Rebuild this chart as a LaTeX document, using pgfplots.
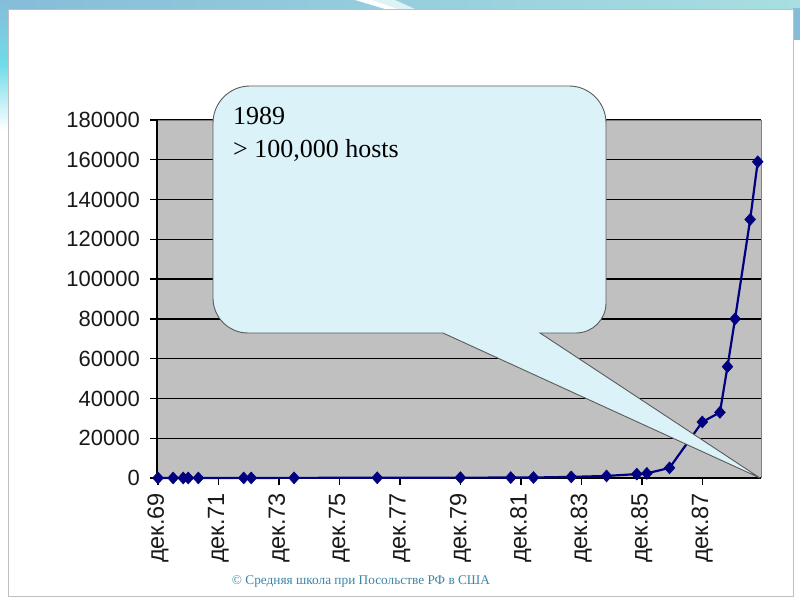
\documentclass[border=0pt]{standalone}
\usepackage{fontspec}
\setmainfont{Liberation Serif}
\newfontfamily\arial{Liberation Sans}
\usepackage{pgfplots}
\pgfplotsset{compat=1.18}
\definecolor{navy}{HTML}{000080}
\definecolor{plotgray}{HTML}{C0C0C0}
\definecolor{bubble}{HTML}{DBF3F8}
\definecolor{bubbleedge}{HTML}{5A5A5A}
\definecolor{copyc}{HTML}{3B86A8}
\definecolor{bandL}{HTML}{86BCD8}
\definecolor{bandR}{HTML}{A8DFE2}
\definecolor{sideC}{HTML}{6FDCEA}
\begin{document}
\begin{tikzpicture}[x=1pt,y=1pt]
\path[use as bounding box] (0,0) rectangle (800,600);
\fill[white] (0,0) rectangle (800,600);
% decorative slide band
\shade[left color=bandL, right color=bandR] (0,588) rectangle (800,600);
\shade[top color=bandL, bottom color=white, middle color=sideC] (0,470) rectangle (10,600);
\fill[white] (355,600) -- (380,600) -- (405,591) -- (385,591) -- cycle;
\fill[white!60!bandR] (372,600) -- (395,600) -- (415,591) -- (398,591) -- cycle;
\fill[bandL] (793,560) rectangle (800,592);
\draw[white!75!black, line width=0.8pt, fill=white] (8,4) rectangle (793,591);
\begin{axis}[
  at={(157pt,122pt)}, anchor=south west,
  scale only axis, width=604pt, height=358pt,
  xmin=10.6, xmax=250.3, ymin=0, ymax=180000,
  axis background/.style={fill=plotgray},
  axis line style={draw=none},
  xtick={11,35,59,83,107,131,155,179,203,227},
  xticklabels={дек.69,дек.71,дек.73,дек.75,дек.77,дек.79,дек.81,дек.83,дек.85,дек.87},
  ytick={0,20000,40000,60000,80000,100000,120000,140000,160000,180000},
  scaled y ticks=false,
  yticklabel style={/pgf/number format/fixed, /pgf/number format/1000 sep={}, /pgf/number format/assume math mode=true},
  xticklabel style={font=\arial\fontsize{23.5}{26}\selectfont, text=black!90, rotate=90, anchor=east, inner sep=0pt, xshift=-8pt},
  yticklabel style={font=\arial\fontsize{22}{26}\selectfont, text=black!90, inner sep=0pt, xshift=-10pt},
  tick align=outside, xtick pos=bottom, ytick pos=left,
  major tick length=7pt,
  tick style={black, line width=1.4pt},
  ymajorgrids, grid style={black, line width=1.4pt},
  clip=false,
]
\draw[gray, line width=0.8pt] (rel axis cs:0,1) -- (rel axis cs:1,1) -- (rel axis cs:1,0);
\draw[black, line width=1.4pt] (rel axis cs:0,0) -- (rel axis cs:1,0);
\draw[black, line width=1.6pt] (rel axis cs:0,0) -- (rel axis cs:0,1);
\addplot[color=navy, line width=2.2pt, mark=diamond*, mark size=6pt, mark options={solid, fill=navy, draw=navy, line width=0.5pt, xscale=1.2}] coordinates {
(11,4) (17,9) (21,11) (23,13) (27,23) (45,31) (48,35) (65,62) (98,111)
(131,188) (151,213) (160,235) (175,562) (189,1024) (201,1961) (205,2308)
(214,5089) (227,28174) (234,33000) (237,56000) (240,80000) (246,130000) (249,159000)
};
\end{axis}
% callout
\draw[fill=bubble, draw=bubbleedge, line width=0.9pt]
  (250,514) -- (569,514) arc[start angle=90, end angle=0, radius=37]
  -- (606,297) arc[start angle=0, end angle=-90, radius=30]
  -- (540,267) -- (760,122) -- (443,267) -- (248,267)
  arc[start angle=270, end angle=180, radius=35]
  -- (213,477) arc[start angle=180, end angle=90, radius=37] -- cycle;
\node[anchor=north west, inner sep=0pt, align=left, font=\fontsize{26}{33}\selectfont] at (233,493) {1989\\> 100,000 hosts};
\node[anchor=center, inner sep=0pt, text=copyc, font=\fontsize{13.3}{16}\selectfont] at (361,19) {© Средняя школа при Посольстве РФ в США};
\end{tikzpicture}
\end{document}
